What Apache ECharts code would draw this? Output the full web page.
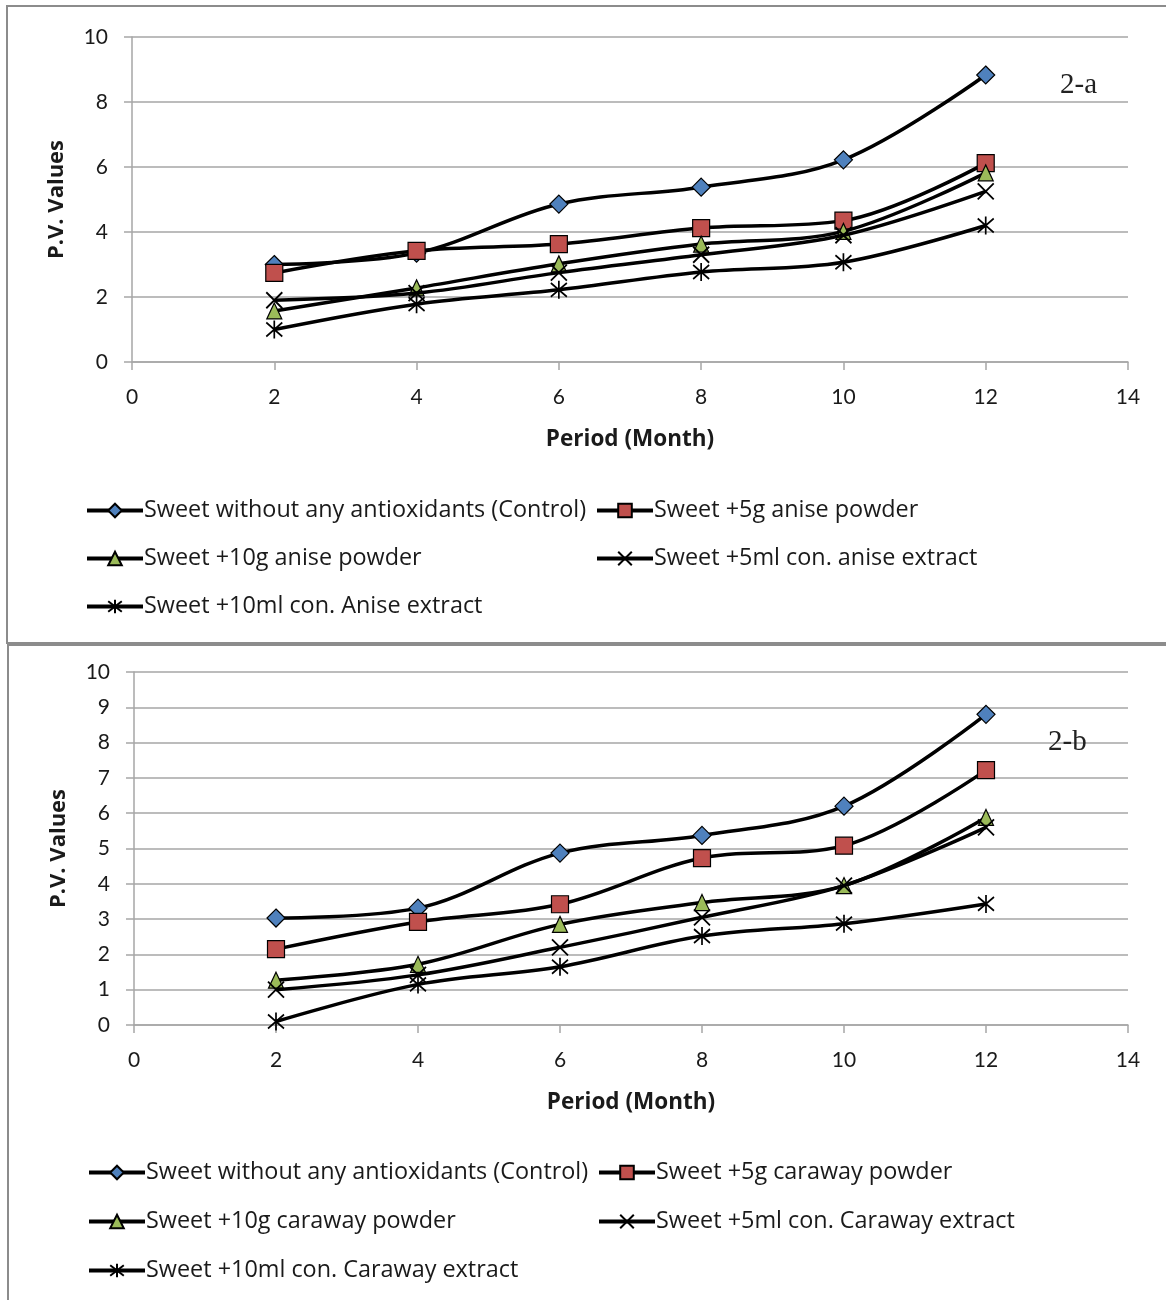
<!DOCTYPE html>
<html>
<head>
<meta charset="utf-8">
<script src="https://cdn.jsdelivr.net/npm/echarts@6/dist/echarts.min.js"></script>
<style>
  html, body { margin: 0; padding: 0; background: #fff; }
  #chart { width: 1166px; height: 1300px; }
</style>
</head>
<body>
<div id="chart"></div>
<script>
// Storage period (months)
const months = [2, 4, 6, 8, 10, 12];
const xTicks = [0, 2, 4, 6, 8, 10, 12, 14];

// Panel 2-a: anise treatments, peroxide values
const namesA = [
  'Sweet without any antioxidants (Control)',
  'Sweet +5g anise powder',
  'Sweet +10g anise powder',
  'Sweet +5ml con. anise extract',
  'Sweet +10ml con. Anise extract'
];
const controlA  = [3.0, 3.35, 4.86, 5.38, 6.22, 8.83];
const anise5g   = [2.74, 3.42, 3.63, 4.12, 4.35, 6.12];
const anise10g  = [1.57, 2.28, 3.02, 3.63, 4.02, 5.82];
const anise5ml  = [1.9, 2.12, 2.75, 3.3, 3.9, 5.25];
const anise10ml = [1.0, 1.78, 2.22, 2.77, 3.07, 4.2];

// Panel 2-b: caraway treatments, peroxide values
const namesB = [
  'Sweet without any antioxidants (Control) ',
  'Sweet +5g caraway powder',
  'Sweet +10g caraway powder',
  'Sweet +5ml con. Caraway extract',
  'Sweet +10ml con. Caraway extract'
];
const controlB    = [3.03, 3.31, 4.87, 5.37, 6.2, 8.8];
const caraway5g   = [2.15, 2.92, 3.42, 4.73, 5.08, 7.22];
const caraway10g  = [1.27, 1.72, 2.85, 3.47, 3.95, 5.88];
const caraway5ml  = [1.0, 1.42, 2.2, 3.05, 3.95, 5.6];
const caraway10ml = [0.1, 1.15, 1.65, 2.52, 2.87, 3.43];

const FONT = 'Lato, "Liberation Sans", sans-serif';
const LEGEND_FONT = '"Open Sans", Lato, sans-serif';
const GRID_COLOR = '#a6a6a6';

const markers = [
  { symbol: 'diamond', size: [18, 18], fill: '#4f81bd' },
  { symbol: 'rect', size: [17, 17], fill: '#c0504d' },
  { symbol: 'triangle', size: [15, 16], fill: '#9bbb59' },
  { symbol: 'path://M0,0L10,10M10,0L0,10', size: [16, 16], fill: 'none' },
  { symbol: 'path://M0,0L10,10M10,0L0,10M5,-1.5L5,11.5', size: [16, 18], fill: 'none' }
];

function pairs(vals) { return months.map((m, i) => [m, vals[i]]); }

function makeSeries(names, sets, gridIdx) {
  return sets.map((vals, i) => ({
    type: 'line',
    name: names[i],
    xAxisIndex: gridIdx,
    yAxisIndex: gridIdx,
    data: pairs(vals),
    smooth: 0.35,
    symbol: markers[i].symbol,
    symbolSize: markers[i].size,
    lineStyle: { color: '#000', width: 3.5 },
    itemStyle: { color: markers[i].fill, borderColor: '#000', borderWidth: markers[i].fill === 'none' ? 1.8 : 1.2 },
    emphasis: { disabled: true },
    z: 2 + i
  }));
}

function makeLegends(names, rowTops, colLefts) {
  const pos = [[0, 0], [1, 0], [0, 1], [1, 1], [0, 2]];
  return names.map((n, i) => ({
    data: [n],
    left: colLefts[pos[i][0]],
    top: rowTops[pos[i][1]],
    padding: 0,
    itemWidth: 56,
    itemHeight: 17,
    itemGap: 0,
    selectedMode: false,
    lineStyle: { width: 4, color: '#000' },
    textStyle: { fontFamily: LEGEND_FONT, fontSize: 23.4, color: '#1a1a1a', padding: [0, 0, 0, -4] }
  }));
}

function xAxis(gridIdx) {
  return {
    type: 'value', gridIndex: gridIdx, min: 0, max: 14, interval: 2,
    name: 'Period (Month)', nameLocation: 'middle', nameGap: 66,
    nameTextStyle: { fontFamily: LEGEND_FONT, fontSize: 22.5, fontWeight: 'bold', color: '#1a1a1a' },
    axisLine: { lineStyle: { color: GRID_COLOR, width: 1.5 } },
    axisTick: { show: true, length: 8, lineStyle: { color: GRID_COLOR, width: 1.5 } },
    axisLabel: { fontFamily: FONT, fontSize: 21, color: '#1a1a1a', margin: 25 },
    splitLine: { show: false }
  };
}

function yAxis(gridIdx, interval) {
  return {
    type: 'value', gridIndex: gridIdx, min: 0, max: 10, interval: interval,
    name: 'P.V. Values', nameLocation: 'middle', nameGap: 64, nameRotate: 90,
    nameTextStyle: { fontFamily: LEGEND_FONT, fontSize: 22, fontWeight: 'bold', color: '#1a1a1a' },
    axisLine: { show: true, lineStyle: { color: GRID_COLOR, width: 1.5 } },
    axisTick: { show: true, length: 8, lineStyle: { color: GRID_COLOR, width: 1.5 } },
    axisLabel: { fontFamily: FONT, fontSize: 21, color: '#1a1a1a', margin: 24 },
    splitLine: { show: true, lineStyle: { color: GRID_COLOR, width: 1.5 } }
  };
}

const chart = echarts.init(document.getElementById('chart'), null, { renderer: 'canvas' });

chart.setOption({
  animation: false,
  backgroundColor: '#fff',
  grid: [
    { left: 132, right: 38, top: 37, height: 325 },
    { left: 134, right: 38, top: 672, height: 353 }
  ],
  xAxis: [xAxis(0), xAxis(1)],
  yAxis: [yAxis(0, 2), yAxis(1, 1)],
  legend: [
    ...makeLegends(namesA, [499, 547, 595], [85, 595]),
    ...makeLegends(namesB, [1161, 1210, 1259], [87, 597])
  ],
  series: [
    ...makeSeries(namesA, [controlA, anise5g, anise10g, anise5ml, anise10ml], 0),
    ...makeSeries(namesB, [controlB, caraway5g, caraway10g, caraway5ml, caraway10ml], 1)
  ],
  graphic: [
    { type: 'rect', shape: { x: 7, y: 6, width: 1200, height: 637 }, style: { fill: 'none', stroke: '#8c8c8c', lineWidth: 2 }, silent: true, z: 100 },
    { type: 'rect', shape: { x: 8, y: 645, width: 1200, height: 700 }, style: { fill: 'none', stroke: '#8c8c8c', lineWidth: 2 }, silent: true, z: 100 },
    { type: 'text', left: 1060, top: 71, style: { text: '2-a', font: '29px "Liberation Serif", serif', fill: '#222' }, z: 100 },
    { type: 'text', left: 1048, top: 728, style: { text: '2-b', font: '29px "Liberation Serif", serif', fill: '#222' }, z: 100 }
  ]
});
</script>
</body>
</html>
